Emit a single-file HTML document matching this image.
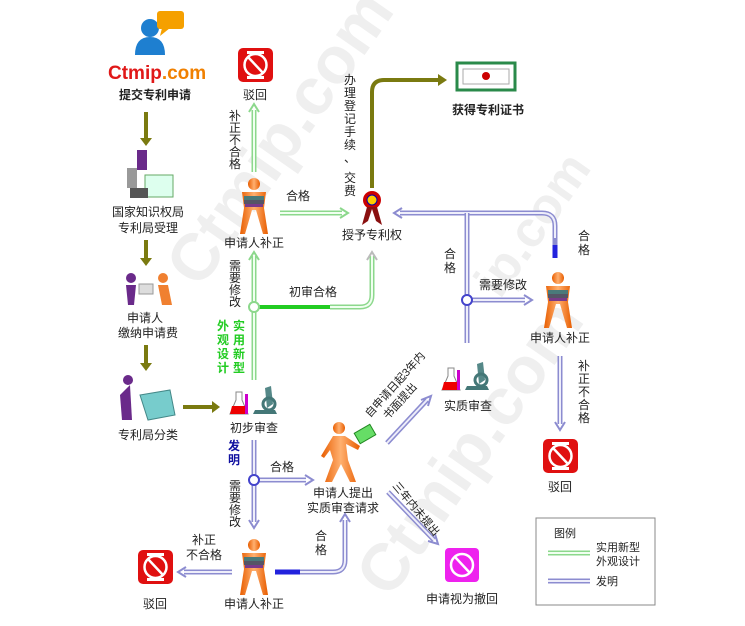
<!DOCTYPE html>
<html><head><meta charset="utf-8">
<style>
html,body{margin:0;padding:0;background:#fff;}
svg{display:block;}
text{font-family:"Liberation Sans","Noto Sans CJK SC",sans-serif;font-size:12px;fill:#222;}
.bo{fill:none;stroke:#8c8cd0;stroke-width:5;}
.bi{fill:none;stroke:#eeeefa;stroke-width:2;}
.go{fill:none;stroke:#8cd88c;stroke-width:5;}
.gi{fill:none;stroke:#f0fff0;stroke-width:2;}
.gs{fill:none;stroke:#22cc22;stroke-width:4;}
.ol{fill:none;stroke:#7a7a10;stroke-width:4;}
.wm{font-size:66px;font-weight:bold;fill:#efefef;}
</style></head><body>
<svg width="745" height="626" viewBox="0 0 745 626" xmlns="http://www.w3.org/2000/svg">
<defs>
<linearGradient id="og" x1="0" x2="1"><stop offset="0" stop-color="#e85d00"/><stop offset=".5" stop-color="#ffb070"/><stop offset="1" stop-color="#e85d00"/></linearGradient>
<g id="person">
<circle cx="0" cy="-22" r="6" fill="url(#og)"/>
<path d="M-12,-14 L12,-14 L10,2 L14,28 L9,28 L2,4 L-2,4 L-9,28 L-14,28 L-10,2 Z" fill="url(#og)"/>
<rect x="-10" y="-10" width="20" height="4" fill="#4a7a7a"/>
<rect x="-10" y="-6" width="20" height="4" fill="#556"/>
<rect x="-9" y="-2" width="18" height="3" fill="#7a3a8a"/>
</g>
<g id="rej">
<rect x="0" y="0" width="35" height="34" rx="5" fill="#e01010"/>
<circle cx="17.5" cy="17" r="11" fill="none" stroke="#fff" stroke-width="2.5"/>
<line x1="10" y1="9" x2="25" y2="25" stroke="#fff" stroke-width="2.5"/>
<rect x="9" y="3" width="17" height="3" fill="#fff"/><rect x="9" y="28" width="17" height="3" fill="#fff"/>
</g>
<g id="lab">
<path d="M5,6 L11,6 L11,14 L17,28 L-1,28 L5,14 Z" fill="#fff" stroke="#888"/>
<path d="M1,20 L15,20 L17,28 L-1,28 Z" fill="#e00"/>
<rect x="14" y="8" width="3" height="20" fill="#c0c"/>
<path d="M22,28 L46,28 L44,24 L24,24 Z" fill="#477"/>
<path d="M34,2 L40,0 L42,18 L36,22 Z" fill="#588"/>
<circle cx="38" cy="18" r="6" fill="none" stroke="#477" stroke-width="3"/>
</g>
</defs>

<!-- watermarks -->
<text class="wm" transform="translate(200,290) rotate(-55)">Ctmip.com</text>
<text class="wm" transform="translate(390,600) rotate(-55)">Ctmip.com</text>
<text class="wm" transform="translate(500,300) rotate(-55)" style="font-size:50px">ip.com</text>

<!-- logo -->
<circle cx="150" cy="28" r="9" fill="#1e7fd0"/>
<path d="M135,55 Q135,37 150,37 Q165,37 165,55 Z" fill="#1e7fd0"/>
<rect x="157" y="11" width="27" height="18" rx="3" fill="#f5a000"/>
<path d="M162,28 L160,36 L170,28 Z" fill="#f5a000"/>
<text x="108" y="79" style="font-size:19px;font-weight:bold;fill:#e01818">Ctmip<tspan style="fill:#f08000">.com</tspan></text>
<text x="155" y="99" text-anchor="middle" style="font-weight:bold">提交专利申请</text>

<!-- olive left column arrows -->
<line class="ol" x1="146" y1="112" x2="146" y2="140"/><path d="M140,138 L146,146 L152,138Z" fill="#7a7a10"/>
<line class="ol" x1="146" y1="240" x2="146" y2="260"/><path d="M140,258 L146,266 L152,258Z" fill="#7a7a10"/>
<line class="ol" x1="146" y1="345" x2="146" y2="365"/><path d="M140,363 L146,371 L152,363Z" fill="#7a7a10"/>
<line class="ol" x1="183" y1="407" x2="214" y2="407"/><path d="M212,401 L220,407 L212,413Z" fill="#7a7a10"/>

<!-- desk -->
<rect x="137" y="150" width="10" height="20" fill="#6a2a8a"/><circle cx="142" cy="155" r="5" fill="#6a2a8a"/>
<rect x="127" y="168" width="10" height="20" fill="#999"/>
<rect x="145" y="175" width="28" height="22" fill="#dfe" stroke="#6a6"/>
<rect x="130" y="188" width="18" height="10" fill="#555"/>
<text x="148" y="216" text-anchor="middle">国家知识权局</text>
<text x="148" y="232" text-anchor="middle">专利局受理</text>
<!-- pay -->
<path d="M126,285 L136,285 L134,305 L128,305Z" fill="#6a2a8a"/><circle cx="131" cy="278" r="5" fill="#6a2a8a"/>
<rect x="139" y="284" width="14" height="10" fill="#ddd" stroke="#999"/>
<path d="M158,285 L168,285 L172,305 L162,305Z" fill="#f08030"/><circle cx="163" cy="278" r="5" fill="#f08030"/>
<text x="145" y="322" text-anchor="middle">申请人</text>
<text x="148" y="337" text-anchor="middle">缴纳申请费</text>
<!-- box -->
<path d="M120,395 L130,385 L132,420 L122,420Z" fill="#6a2a8a"/><circle cx="128" cy="380" r="5" fill="#6a2a8a"/>
<path d="M140,395 L170,390 L175,415 L148,420Z" fill="#7cc" stroke="#488"/>
<text x="148" y="439" text-anchor="middle">专利局分类</text>

<!-- green pipes -->
<path class="go" d="M254,380 V256"/><path class="gi" d="M254,380 V256"/>
<path d="M249,260 L254,252 L259,260" fill="none" stroke="#8cd88c" stroke-width="2"/>
<path class="gs" d="M258,307 H330"/>
<path class="go" d="M330,307 H360 Q372,307 372,295 V256"/><path class="gi" d="M330,307 H360 Q372,307 372,295 V256"/>
<path d="M367,260 L372,252 L377,260" fill="none" stroke="#bbb" stroke-width="2"/>
<circle cx="254" cy="307" r="5" fill="#fff" stroke="#8cd88c" stroke-width="2"/>
<path class="go" d="M254,172 V110"/><path class="gi" d="M254,172 V110"/>
<path d="M249,112 L254,104 L259,112" fill="none" stroke="#8cd88c" stroke-width="2"/>
<path class="go" d="M280,213 H342"/><path class="gi" d="M280,213 H342"/>
<path d="M340,208 L348,213 L340,218" fill="none" stroke="#8cd88c" stroke-width="2"/>

<text x="313" y="296" text-anchor="middle">初审合格</text>
<text x="298" y="200" text-anchor="middle">合格</text>
<g text-anchor="middle"><text x="235" y="270">需</text><text x="235" y="282">要</text><text x="235" y="294">修</text><text x="235" y="306">改</text></g>
<g text-anchor="middle"><text x="223" y="330" style="fill:#22cc22;font-weight:bold">外</text><text x="223" y="344" style="fill:#22cc22;font-weight:bold">观</text><text x="223" y="358" style="fill:#22cc22;font-weight:bold">设</text><text x="223" y="372" style="fill:#22cc22;font-weight:bold">计</text>
<text x="239" y="330" style="fill:#22cc22;font-weight:bold">实</text><text x="239" y="344" style="fill:#22cc22;font-weight:bold">用</text><text x="239" y="358" style="fill:#22cc22;font-weight:bold">新</text><text x="239" y="372" style="fill:#22cc22;font-weight:bold">型</text></g>
<g text-anchor="middle"><text x="235" y="120">补</text><text x="235" y="132">正</text><text x="235" y="144">不</text><text x="235" y="156">合</text><text x="235" y="168">格</text></g>

<use href="#rej" x="238" y="48"/>
<text x="255" y="99" text-anchor="middle">驳回</text>
<use href="#person" x="254" y="206"/>
<text x="254" y="247" text-anchor="middle">申请人补正</text>

<!-- award -->
<circle cx="372" cy="200" r="9" fill="#c00"/><circle cx="372" cy="200" r="5" fill="#fc0" stroke="#00a"/>
<path d="M367,207 L362,225 L368,221 L372,209 L376,221 L382,225 L377,207Z" fill="#8a1010"/>
<text x="372" y="239" text-anchor="middle">授予专利权</text>

<!-- olive to certificate -->
<path class="ol" d="M372,188 V92 Q372,80 384,80 H440"/><path d="M438,74 L447,80 L438,86Z" fill="#7a7a10"/>
<g text-anchor="middle"><text x="350" y="84">办</text><text x="350" y="97">理</text><text x="350" y="110">登</text><text x="350" y="123">记</text><text x="350" y="136">手</text><text x="350" y="149">续</text><text x="350" y="162">、</text><text x="350" y="182">交</text><text x="350" y="182" style="font-size:0"></text></g>
<text x="350" y="195" text-anchor="middle" style="font-size:0">x</text>
<text x="350" y="168" text-anchor="middle" style="font-size:0">x</text>
<text x="350" y="182" text-anchor="middle" style="font-size:0">x</text>
<text x="350" y="182" text-anchor="middle" style="font-size:0">x</text>
<text x="350" y="182" text-anchor="middle" style="font-size:0">x</text>
<text x="350" y="182" text-anchor="middle" style="font-size:0">x</text>
<text x="350" y="182" text-anchor="middle" style="font-size:0">x</text>
<text x="350" y="195" text-anchor="middle" style="font-size:0">x</text>
<text x="350" y="182" text-anchor="middle" style="font-size:0">x</text>
<text x="350" y="182" text-anchor="middle" style="font-size:0">x</text>
<text x="350" y="182" text-anchor="middle" style="font-size:0">x</text>
<text x="350" y="182" text-anchor="middle" style="font-size:0">x</text>
<text x="350" y="195" text-anchor="middle">费</text>
<rect x="457" y="63" width="58" height="27" fill="#fff" stroke="#2a8a4a" stroke-width="3"/>
<rect x="463" y="69" width="46" height="15" fill="none" stroke="#aaa"/>
<circle cx="486" cy="76" r="4" fill="#c00"/>
<text x="488" y="114" text-anchor="middle" style="font-weight:bold">获得专利证书</text>

<!-- blue pipes top right -->
<path class="bo" d="M555,256 V226 Q555,213 542,213 H400"/><path class="bi" d="M555,238 V226 Q555,213 542,213 H400"/>
<path d="M555,245 V258" stroke="#2222dd" stroke-width="5"/>
<path d="M402,208 L394,213 L402,218" fill="none" stroke="#8c8cd0" stroke-width="2"/>
<path class="bo" d="M467,213 V343"/><path class="bi" d="M467,213 V343"/>
<path class="bo" d="M472,300 H525"/><path class="bi" d="M472,300 H525"/>
<path d="M524,295 L532,300 L524,305" fill="none" stroke="#8c8cd0" stroke-width="2"/>
<circle cx="467" cy="300" r="5" fill="#fff" stroke="#4444cc" stroke-width="2"/>
<text x="503" y="289" text-anchor="middle">需要修改</text>
<g text-anchor="middle"><text x="450" y="258">合</text><text x="450" y="272">格</text><text x="584" y="240">合</text><text x="584" y="254">格</text></g>
<use href="#person" x="558" y="300"/>
<text x="560" y="342" text-anchor="middle">申请人补正</text>
<path class="bo" d="M560,356 V424"/><path class="bi" d="M560,356 V424"/>
<path d="M555,422 L560,430 L565,422" fill="none" stroke="#8c8cd0" stroke-width="2"/>
<g text-anchor="middle"><text x="584" y="370">补</text><text x="584" y="383">正</text><text x="584" y="396">不</text><text x="584" y="409">合</text><text x="584" y="422">格</text></g>
<use href="#rej" x="543" y="439"/>
<text x="560" y="491" text-anchor="middle">驳回</text>

<use href="#lab" x="443" y="362"/>
<text x="468" y="410" text-anchor="middle">实质审查</text>
<use href="#lab" x="231" y="386"/>
<text x="254" y="432" text-anchor="middle">初步审查</text>
<g text-anchor="middle"><text x="234" y="450" style="fill:#1010a0;font-weight:bold">发</text><text x="234" y="464" style="fill:#1010a0;font-weight:bold">明</text></g>

<!-- lower blue -->
<path class="bo" d="M254,440 V522"/><path class="bi" d="M254,440 V522"/>
<path d="M249,520 L254,528 L259,520" fill="none" stroke="#8c8cd0" stroke-width="2"/>
<path class="bo" d="M259,480 H306"/><path class="bi" d="M259,480 H306"/>
<path d="M305,475 L313,480 L305,485" fill="none" stroke="#8c8cd0" stroke-width="2"/>
<circle cx="254" cy="480" r="5" fill="#fff" stroke="#4444cc" stroke-width="2"/>
<text x="282" y="471" text-anchor="middle">合格</text>
<g text-anchor="middle"><text x="235" y="490">需</text><text x="235" y="502">要</text><text x="235" y="514">修</text><text x="235" y="526">改</text></g>

<!-- walking person -->
<circle cx="339" cy="428" r="6" fill="url(#og)"/>
<path d="M333,436 L345,436 L360,446 L358,450 L346,444 L348,460 L356,482 L350,482 L341,464 L332,482 L325,482 L333,460 L330,450 L324,458 L321,456Z" fill="url(#og)"/>
<rect x="356" y="428" width="18" height="12" fill="#6d6" stroke="#282" transform="rotate(-30 365 434)"/>
<text x="343" y="497" text-anchor="middle">申请人提出</text>
<text x="343" y="512" text-anchor="middle">实质审查请求</text>
<path class="bo" d="M387,443 L427,400"/><path class="bi" d="M387,443 L427,400"/>
<path d="M421,400 L431,396 L428,406" fill="none" stroke="#8c8cd0" stroke-width="2"/>
<text transform="translate(370,418) rotate(-48)" style="font-size:11px">自申请日起3年内</text>
<text transform="translate(388,420) rotate(-48)" style="font-size:11px">书面提出</text>
<path class="bo" d="M388,492 L434,540"/><path class="bi" d="M388,492 L434,540"/>
<path d="M428,541 L438,544 L435,534" fill="none" stroke="#8c8cd0" stroke-width="2"/>
<text transform="translate(392,486) rotate(50)" style="font-size:11px">三年内未提出</text>
<rect x="445" y="548" width="34" height="34" rx="4" fill="#ee22ee"/>
<circle cx="462" cy="565" r="11" fill="none" stroke="#fff" stroke-width="2.5"/><line x1="455" y1="557" x2="470" y2="573" stroke="#fff" stroke-width="2.5"/>
<text x="462" y="603" text-anchor="middle">申请视为撤回</text>

<!-- bottom person -->
<use href="#person" x="254" y="567"/>
<text x="254" y="608" text-anchor="middle">申请人补正</text>
<path d="M275,572 H300" stroke="#2222dd" stroke-width="5"/>
<path class="bo" d="M300,572 H333 Q345,572 345,560 V520"/><path class="bi" d="M300,572 H333 Q345,572 345,560 V520"/>
<path d="M340,522 L345,514 L350,522" fill="none" stroke="#8c8cd0" stroke-width="2"/>
<g text-anchor="middle"><text x="321" y="540">合</text><text x="321" y="554">格</text></g>
<path class="bo" d="M232,572 H184"/><path class="bi" d="M232,572 H184"/>
<path d="M186,567 L178,572 L186,577" fill="none" stroke="#8c8cd0" stroke-width="2"/>
<text x="204" y="544" text-anchor="middle">补正</text>
<text x="204" y="559" text-anchor="middle">不合格</text>
<use href="#rej" x="138" y="550"/>
<text x="155" y="608" text-anchor="middle">驳回</text>

<!-- legend -->
<rect x="536" y="518" width="119" height="87" fill="#fff" stroke="#888"/>
<text x="554" y="537" style="font-size:11px">图例</text>
<path class="go" d="M548,553 H590"/><path class="gi" d="M548,553 H590"/>
<text x="596" y="551" style="font-size:11px">实用新型</text>
<text x="596" y="565" style="font-size:11px">外观设计</text>
<path class="bo" d="M548,581 H590"/><path class="bi" d="M548,581 H590"/>
<text x="596" y="585" style="font-size:11px">发明</text>
</svg>
</body></html>
